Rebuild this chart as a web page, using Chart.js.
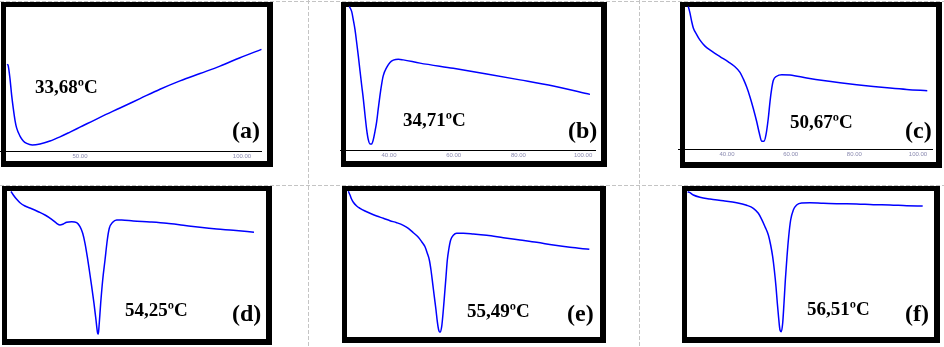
<!DOCTYPE html>
<html lang="pt">
<head>
  <meta charset="UTF-8" />
  <title>DSC</title>
  <script src="https://cdn.jsdelivr.net/npm/chart.js"></script>
  <style>
    body { margin: 0; width: 944px; height: 347px; background: #fff; position: relative; overflow: hidden; }
    .hline { position: absolute; left: 0; width: 944px; height: 1px;
      background: repeating-linear-gradient(to right, #c4c4c4 0 4px, transparent 4px 6px); }
    .vline { position: absolute; top: 0; width: 1px; height: 347px;
      background: repeating-linear-gradient(to bottom, #c4c4c4 0 4px, transparent 4px 6px); }
    .cadre { position: absolute; box-sizing: border-box; border: solid #000; border-width: 5px 6px 6px 5px; background: #fff; }
    canvas { position: absolute; }
    .temp, .lettre { position: absolute; font-family: "Liberation Serif", serif; font-weight: bold;
      line-height: 1; color: #000; white-space: nowrap; }
    .temp { font-size: 19px; }
    .lettre { font-size: 24px; }
  </style>
</head>
<body>

  <div class="hline" style="top:1px"></div>
  <div class="hline" style="top:185px"></div>
  <div class="vline" style="left:308px"></div>
  <div class="vline" style="left:639px"></div>

  <div class="cadre" style="left:1px;top:2px;width:272px;height:165px"></div>
  <div class="cadre" style="left:341px;top:2px;width:266px;height:165px"></div>
  <div class="cadre" style="left:680px;top:2px;width:262px;height:166px"></div>
  <div class="cadre" style="left:2px;top:186px;width:270px;height:159px"></div>
  <div class="cadre" style="left:342px;top:186px;width:264px;height:157px"></div>
  <div class="cadre" style="left:682px;top:186px;width:258px;height:157px"></div>

  <canvas id="g-a" width="262" height="155" style="left:0px;top:6px"></canvas>
  <canvas id="g-b" width="256" height="154" style="left:340px;top:6px"></canvas>
  <canvas id="g-c" width="255" height="153" style="left:678px;top:6px"></canvas>
  <canvas id="g-d" width="260" height="148" style="left:7px;top:191px"></canvas>
  <canvas id="g-e" width="254" height="147" style="left:347px;top:191px"></canvas>
  <canvas id="g-f" width="248" height="147" style="left:687px;top:191px"></canvas>

  <span class="temp" style="left:35px;top:77px">33,68ºC</span>
  <span class="lettre" style="left:232px;top:118px">(a)</span>
  <span class="temp" style="left:403px;top:110px">34,71ºC</span>
  <span class="lettre" style="left:568px;top:118px">(b)</span>
  <span class="temp" style="left:790px;top:112px">50,67ºC</span>
  <span class="lettre" style="left:905px;top:118px">(c)</span>
  <span class="temp" style="left:125px;top:300px">54,25ºC</span>
  <span class="lettre" style="left:232px;top:301px">(d)</span>
  <span class="temp" style="left:467px;top:301px">55,49ºC</span>
  <span class="lettre" style="left:567px;top:301px">(e)</span>
  <span class="temp" style="left:807px;top:299px">56,51ºC</span>
  <span class="lettre" style="left:905px;top:301px">(f)</span>

  <script>
    // temperatures (ºC) et flux de chaleur (unites arbitraires)
    const tempA = [27.56, 27.87, 28.40, 28.92, 29.41, 29.94, 30.46, 31.48, 32.50, 33.55, 35.28, 37.66, 40.74,
      43.83, 46.91, 50.00, 56.17, 62.35, 68.52, 74.69, 80.86, 87.04, 93.21, 99.38, 106.0];
    const fluxA = [89, 87, 74, 57, 44, 32, 24, 16, 11, 8.5, 7, 8, 11,
      15.2, 20, 25, 35, 44.5, 54, 63.5, 72, 79.5, 87, 95.5, 104];

    const tempB = [27.72, 28.47, 28.96, 29.49, 30.01, 30.51, 31.03, 31.56, 32.05, 32.58, 33.10, 33.60, 34.12,
      34.65, 35.14, 35.67, 36.19, 36.69, 37.21, 37.74, 38.23, 39.29, 40.31, 41.33, 42.87, 44.42, 49.58,
      59.87, 70.20, 80.49, 90.79, 102.13];
    const fluxB = [146.5, 141.3, 133, 123, 109.7, 96.3, 81.3, 66.3, 53, 36.3, 21.3, 11.3, 7,
      7, 11.3, 19.7, 29.7, 43, 56.3, 68, 76.3, 84.7, 89.7, 92, 93, 92.3, 89,
      83.7, 78, 72, 65.7, 57.3];

    const tempC = [27.84, 28.37, 28.90, 29.41, 30.47, 31.51, 33.08, 35.19, 37.80, 40.40, 42.51, 44.08, 45.12,
      46.18, 47.22, 48.26, 49.32, 50.14, 50.90, 51.62, 52.25, 52.97, 53.50, 54.04, 54.54, 55.61, 57.18,
      59.79, 65.03, 70.25, 75.50, 80.74, 85.96, 91.20, 96.45, 102.92];
    const fluxC = [145.5, 138.7, 130.3, 123.7, 117, 111.3, 105.3, 100.3, 94.7, 89.3, 84.3, 78.7, 72,
      63.7, 53.7, 42, 28.7, 17, 8.7, 8.7, 15.3, 32, 48.7, 62, 70.3, 74.7, 76.3,
      76, 73, 70.3, 68, 66, 64.3, 62.7, 61.3, 60];

    const tempD = [28.18, 28.88, 29.91, 30.91, 32.42, 34.45, 36.45, 38.49, 40.52, 42.03, 43.03, 44.03, 45.06,
      46.58, 48.09, 49.09, 49.91, 50.61, 51.30, 51.91, 52.64, 53.33, 53.94, 54.45, 54.64, 54.85, 55.36,
      55.97, 56.67, 57.36, 57.97, 59.00, 60.21, 61.73, 65.24, 70.30, 75.36, 80.39, 85.45, 90.52, 95.55, 101.82];
    const fluxD = [147.5, 144, 139.7, 136.3, 133, 130.3, 127.3, 124, 119.7, 115.7, 114, 115, 116.7,
      117.3, 116.3, 112.3, 105.7, 95.7, 82.3, 69, 52.3, 35.7, 19, 5.7, 5, 12.3, 35.7,
      59, 79, 99, 110.7, 116.7, 119, 119, 118, 117, 115.7, 113.7, 111.7, 110, 108.7, 106.7];

    const tempE = [27.98, 28.49, 28.99, 29.50, 30.51, 31.52, 33.03, 34.55, 36.57, 38.59, 40.61, 42.63, 44.65,
      46.17, 47.68, 49.20, 50.21, 51.22, 51.92, 52.53, 53.03, 53.54, 54.04, 54.55, 54.95, 55.36, 55.76,
      56.27, 56.77, 57.18, 57.58, 57.98, 58.39, 58.99, 59.80, 60.81, 62.83, 65.86, 69.90, 74.95, 80.00,
      85.06, 90.10, 95.16, 101.01];
    const fluxE = [146.8, 143, 138.7, 135.7, 132, 129.7, 127, 124.7, 122, 119.7, 117.3, 115.3, 112.7,
      109.7, 105.3, 100.7, 96.3, 91.3, 84.7, 78, 68, 54.7, 41.3, 28, 16.3, 8, 5.7,
      11.3, 28, 44.7, 61.3, 78, 88, 98, 102.7, 104.7, 104.7, 104, 102.7, 100.3, 98,
      95.7, 93, 90.7, 88.7];

    const tempF = [28.23, 28.94, 29.95, 31.97, 35.00, 39.04, 43.08, 46.11, 48.13, 49.65, 50.66, 51.67, 52.68,
      53.38, 53.99, 54.49, 55.00, 55.40, 55.81, 56.21, 56.61, 57.02, 57.42, 57.83, 58.33, 58.84, 59.44,
      60.25, 61.26, 62.78, 65.30, 69.34, 74.39, 79.45, 84.49, 89.55, 94.60, 99.45];
    const fluxF = [146.3, 145.3, 143, 140.7, 139, 137.3, 135.3, 132.7, 129.7, 124.7, 118.7, 111.3, 103,
      93, 81.3, 68, 51.3, 34.7, 19.7, 8, 6.3, 14.7, 34.7, 58, 81.3, 101.3, 118,
      128, 133, 135, 135.3, 134.7, 134.3, 134, 133.3, 133, 132.3, 132];

    const ticksA = [50, 100];
    const ticksBC = [40, 60, 80, 100];

    const panneaux = [
      { id: 'a', temp: tempA, flux: fluxA, xMin: 25.31, xMax: 106.17, yMax: 148, ticks: ticksA },
      { id: 'b', temp: tempB, flux: fluxB, xMin: 24.85, xMax: 103.99, yMax: 147, ticks: ticksBC },
      { id: 'c', temp: tempC, flux: fluxC, xMin: 24.6, xMax: 104.72, yMax: 146, ticks: ticksBC },
      { id: 'd', temp: tempD, flux: fluxD, xMin: 26.97, xMax: 105.76, yMax: 148, ticks: [] },
      { id: 'e', temp: tempE, flux: fluxE, xMin: 27.58, xMax: 104.55, yMax: 147, ticks: [] },
      { id: 'f', temp: tempF, flux: fluxF, xMin: 28.03, xMax: 103.18, yMax: 147, ticks: [] }
    ];

    function creerGraphique(p) {
      const ctx = document.getElementById('g-' + p.id);
      new Chart(ctx, {
        type: 'line',
        data: {
          datasets: [{
            data: p.temp.map((t, i) => ({ x: t, y: p.flux[i] })),
            borderColor: '#0000ff',
            borderWidth: 1.5,
            pointRadius: 0,
            cubicInterpolationMode: 'monotone',
            fill: false
          }]
        },
        options: {
          responsive: false,
          animation: false,
          events: [],
          layout: { padding: 0 },
          plugins: { legend: { display: false }, tooltip: { enabled: false } },
          scales: {
            x: {
              type: 'linear',
              min: p.xMin,
              max: p.xMax,
              display: p.ticks.length > 0,
              grid: { display: false, drawTicks: false },
              border: { display: true, color: '#000', width: 1 },
              afterBuildTicks: s => { s.ticks = p.ticks.map(v => ({ value: v })); },
              ticks: {
                autoSkip: false,
                maxRotation: 0,
                padding: 1,
                color: '#8a8ab0',
                font: { size: 6, family: 'Arial' },
                callback: v => v.toFixed(2)
              }
            },
            y: { display: false, min: 0, max: p.yMax }
          }
        }
      });
    }

    panneaux.forEach(creerGraphique);
  </script>

</body>
</html>
